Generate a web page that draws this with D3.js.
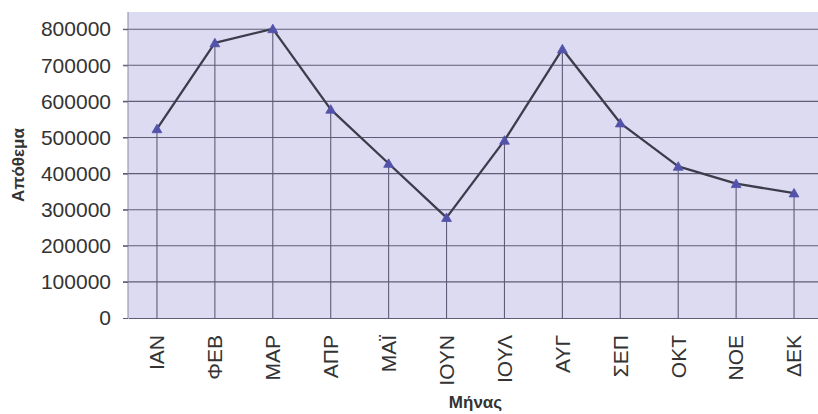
<!DOCTYPE html>
<html><head><meta charset="utf-8">
<script src="https://cdn.jsdelivr.net/npm/d3@7"></script>
<style>body{margin:0;background:#fff;} svg{display:block;}</style>
</head><body><svg id="c" width="818" height="414"></svg>
<script>
const months = ["ΙΑΝ","ΦΕΒ","ΜΑΡ","ΑΠΡ","ΜΑΪ","ΙΟΥΝ","ΙΟΥΛ","ΑΥΓ","ΣΕΠ","ΟΚΤ","ΝΟΕ","ΔΕΚ"];
const stock = [524000,762000,801000,578000,428000,278000,492000,745000,540000,420000,372000,346000];
const yTicks = [0,100000,200000,300000,400000,500000,600000,700000,800000];
const yTitle = "Απόθεμα";
const xTitle = "Μήνας";

const svg = d3.select("#c");
const L = 128, R = 823, T = 12, B = 318;
const x = d3.scaleBand().domain(months).range([L, R]);
const y = d3.scaleLinear().domain([0, 850000]).range([B, B - 8.5 * 36.1]);
const font = "'Liberation Sans', Arial, sans-serif";

svg.append("rect").attr("x", L).attr("y", T).attr("width", R - L).attr("height", B - T).attr("fill", "#dddbf1");

// gridlines
svg.append("g").selectAll("line").data(yTicks.filter(d => d > 0)).join("line")
  .attr("x1", L - 5).attr("x2", R).attr("y1", d => y(d)).attr("y2", d => y(d))
  .attr("stroke", "#5e5c78").attr("stroke-width", 1.1);

// y axis
const yAxis = svg.append("g").attr("transform", `translate(${L},0)`)
  .call(d3.axisLeft(y).tickValues(yTicks).tickSize(5).tickPadding(12).tickFormat(d3.format("d")));
yAxis.select(".domain").attr("stroke", "#8a88a8").attr("d", `M0,${T}V${B}`);
yAxis.selectAll(".tick line").attr("stroke", "#5e5c78");
yAxis.selectAll("text").attr("font-family", font).attr("font-size", 21).attr("fill", "#333");

// drop lines
svg.append("g").selectAll("line").data(months).join("line")
  .attr("x1", d => x(d) + x.bandwidth() / 2).attr("x2", d => x(d) + x.bandwidth() / 2)
  .attr("y1", (d, i) => y(stock[i])).attr("y2", B)
  .attr("stroke", "#5e5c78").attr("stroke-width", 1.1);

// x axis
const xAxis = svg.append("g").attr("transform", `translate(0,${B})`)
  .call(d3.axisBottom(x).tickSize(0).tickPadding(0));
xAxis.select(".domain").attr("stroke", "#5e5c78").attr("stroke-width", 1.2);
xAxis.selectAll("text").attr("font-family", font).attr("font-size", 21).attr("fill", "#333")
  .attr("text-anchor", "end").attr("dy", "0.35em")
  .attr("transform", "translate(0,17) rotate(-90)");

// line
const pts = months.map((m, i) => [x(m) + x.bandwidth() / 2, y(stock[i])]);
svg.append("path").attr("d", d3.line()(pts)).attr("fill", "none")
  .attr("stroke", "#3d3c4c").attr("stroke-width", 2.3).attr("stroke-linejoin", "round");

svg.append("g").selectAll("path").data(pts).join("path")
  .attr("d", d3.symbol(d3.symbolTriangle, 42)())
  .attr("transform", d => `translate(${d[0]},${d[1] + 1})`)
  .attr("fill", "#5352aa").attr("stroke", "#5352aa").attr("stroke-width", 0.8);

// titles
svg.append("text").attr("transform", `translate(24,${(T + B) / 2}) rotate(-90)`)
  .attr("text-anchor", "middle").attr("font-family", font).attr("font-weight", "bold")
  .attr("font-size", 17).attr("fill", "#333").text(yTitle);
svg.append("text").attr("x", (L + R) / 2).attr("y", 408)
  .attr("text-anchor", "middle").attr("font-family", font).attr("font-weight", "bold")
  .attr("font-size", 17).attr("fill", "#333").text(xTitle);
</script></body></html>
